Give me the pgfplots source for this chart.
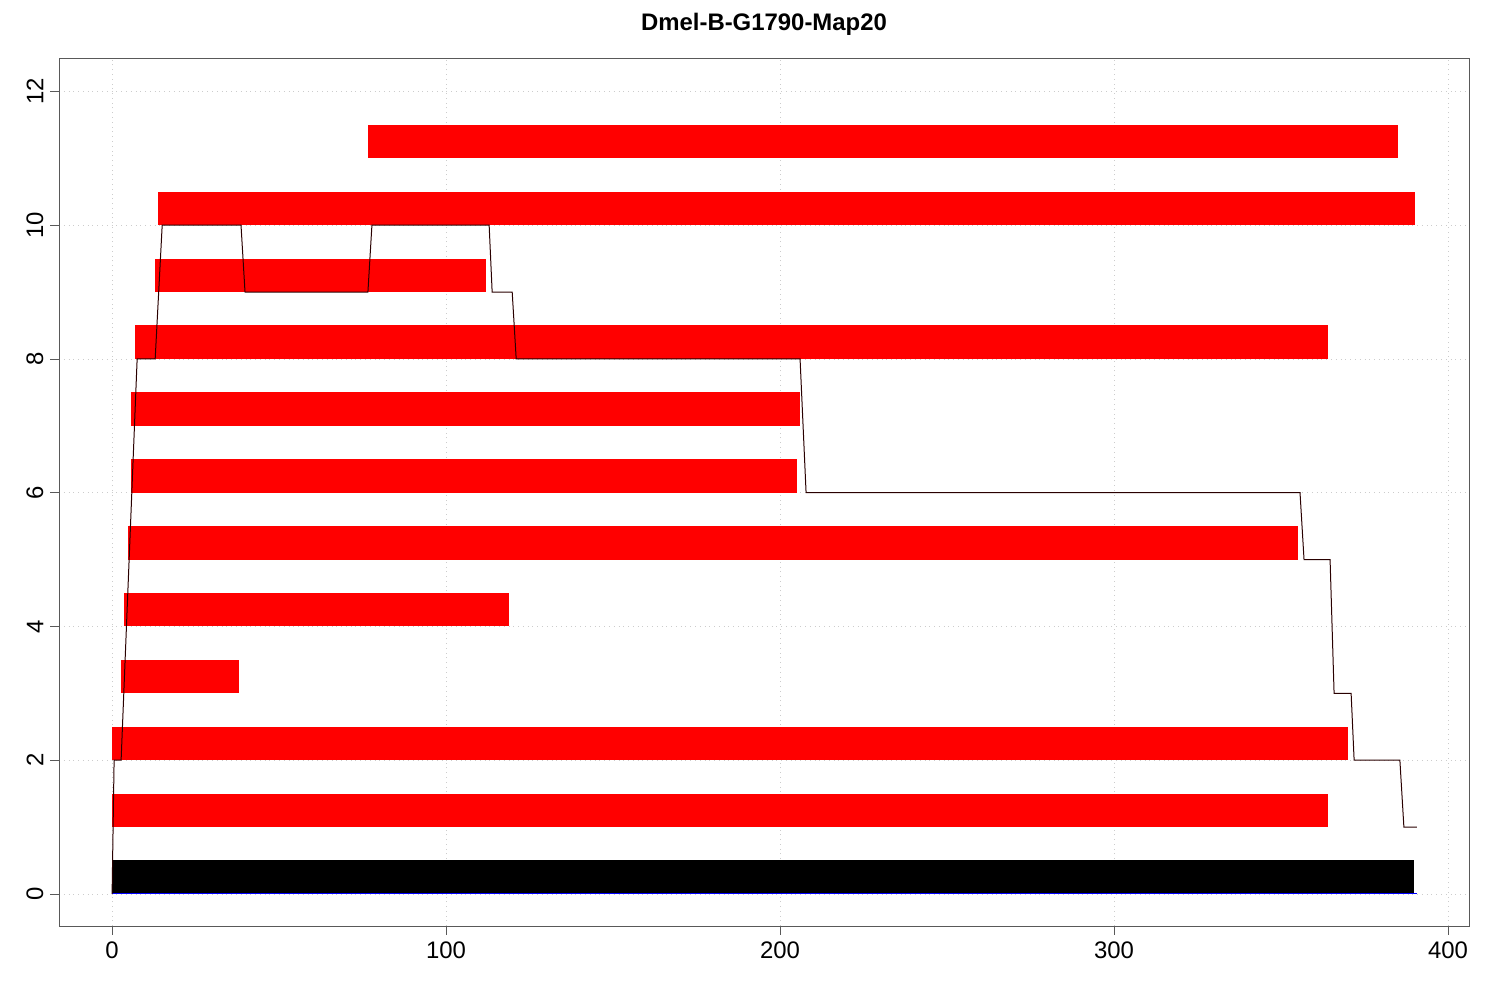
\documentclass[border=0pt]{standalone}
\usepackage{pgfplots}
\pgfplotsset{compat=1.18}
\usepackage{fontspec}
\setmainfont{Liberation Sans}
\begin{document}
\begin{tikzpicture}
\begin{axis}[name=ax, scale only axis, width=705bp, height=434bp,
 xmin=-15.9, xmax=406.3, ymin=-0.48, ymax=12.5,
 xtick={0,100,200,300,400}, ytick={0,2,4,6,8,10,12},
 yticklabel style={rotate=90}, 
 tick label style={font=\fontsize{12}{14}\selectfont},
 /pgf/number format/assume math mode=true,
 grid=major, grid style={dotted, gray!40},
 axis line style={gray!70!black}, tick style={gray!70!black},
 tick align=outside, xtick pos=bottom, ytick pos=left,
 title={\bfseries Dmel-B-G1790-Map20}, title style={font=\fontsize{12}{14}\selectfont, yshift=2bp},
]
\def\bar#1#2#3#4{\addplot[fill=#4, draw=none] coordinates {(#1,#3) (#2,#3) (#2,#3+0.5) (#1,#3+0.5)} --cycle;}
\addplot[fill=black, draw=none] coordinates {(0,0) (389.8,0) (389.8,0.5) (0,0.5)} --cycle;
\addplot[fill=red, draw=none] coordinates {(0,1) (364.1,1) (364.1,1.5) (0,1.5)} --cycle;
\addplot[fill=red, draw=none] coordinates {(0,2) (370,2) (370,2.5) (0,2.5)} --cycle;
\addplot[fill=red, draw=none] coordinates {(2.7,3) (38,3) (38,3.5) (2.7,3.5)} --cycle;
\addplot[fill=red, draw=none] coordinates {(3.6,4) (118.9,4) (118.9,4.5) (3.6,4.5)} --cycle;
\addplot[fill=red, draw=none] coordinates {(4.8,5) (355,5) (355,5.5) (4.8,5.5)} --cycle;
\addplot[fill=red, draw=none] coordinates {(5.7,6) (205,6) (205,6.5) (5.7,6.5)} --cycle;
\addplot[fill=red, draw=none] coordinates {(5.7,7) (206,7) (206,7.5) (5.7,7.5)} --cycle;
\addplot[fill=red, draw=none] coordinates {(6.9,8) (364,8) (364,8.5) (6.9,8.5)} --cycle;
\addplot[fill=red, draw=none] coordinates {(12.9,9) (112,9) (112,9.5) (12.9,9.5)} --cycle;
\addplot[fill=red, draw=none] coordinates {(13.8,10) (390,10) (390,10.5) (13.8,10.5)} --cycle;
\addplot[fill=red, draw=none] coordinates {(76.6,11) (385,11) (385,11.5) (76.6,11.5)} --cycle;
\addplot[blue, line width=0.6pt] coordinates {(0,0) (390.7,0)};
\addplot[black!60!red!40!black, line width=0.5pt] coordinates {
(0,0) (0.6,2) (2.7,2) (7.5,8) (12.9,8) (15,10) (38.6,10) (39.8,9) (76.6,9) (77.8,10)
(112.9,10) (113.8,9) (119.8,9) (121,8) (206,8) (207.8,6) (355.7,6) (356.9,5)
(364.7,5) (365.9,3) (371,3) (371.9,2) (385.6,2) (386.8,1) (390.7,1)};
\end{axis}
\useasboundingbox ([xshift=-29.5bp,yshift=-37bp]ax.south west) rectangle ([xshift=15.5bp,yshift=29bp]ax.north east);
\end{tikzpicture}
\end{document}
